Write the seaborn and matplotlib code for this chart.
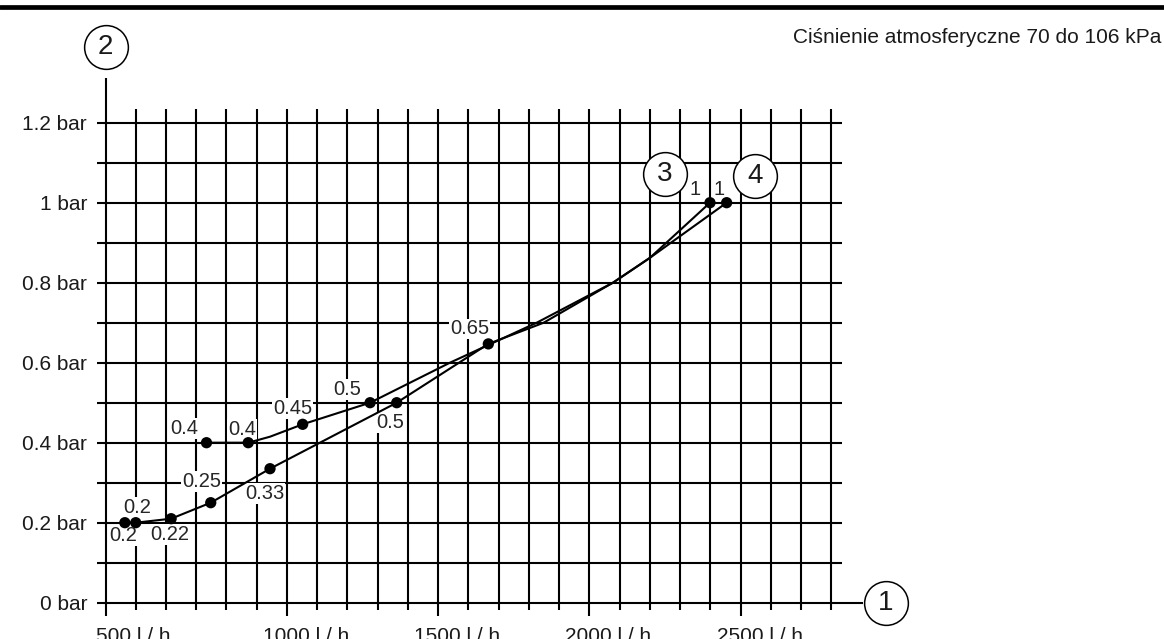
import numpy as np
import seaborn as sns
import matplotlib.pyplot as plt
import matplotlib.transforms as mtransforms

# punkty pomiarowe (przeplyw l/h, cisnienie bar) dla krzywych 3 i 4
flow_3 = [500, 734, 872, 1052, 1275, 2399]
press_3 = [0.2, 0.4, 0.4, 0.446, 0.5, 1.0]
text_3 = ['0.2', '0.4', '0.4', '0.45', '0.5', '1']

flow_4 = [464, 617, 748, 944, 1363, 1666, 2454]
press_4 = [0.2, 0.21, 0.25, 0.335, 0.5, 0.647, 1.0]
text_4 = ['0.2', '0.22', '0.25', '0.33', '0.5', '0.65', '1']

# przebieg linii
path_3_flow = [734, 872, 944, 1052, 1275, 1539, 1826, 2078, 2200, 2399]
path_3_press = [0.4, 0.4, 0.415, 0.446, 0.5, 0.6, 0.7, 0.8, 0.862, 1.0]
path_4_flow = [464, 500, 617, 748, 944, 1363, 1666, 1849, 2078, 2200, 2454]
path_4_press = [0.2, 0.2, 0.21, 0.25, 0.335, 0.5, 0.647, 0.7, 0.8, 0.862, 1.0]

xtick_vals = [400, 1000, 1500, 2000, 2500]
xtick_text = ['500 l / h', '1000 l / h', '1500 l / h', '2000 l / h', '2500 l / h']
ytick_vals = [0, 0.2, 0.4, 0.6, 0.8, 1.0, 1.2]
ytick_text = ['0 bar', '0.2 bar', '0.4 bar', '0.6 bar', '0.8 bar', '1 bar', '1.2 bar']

title = 'Ciśnienie atmosferyczne 70 do 106 kPa'

# przesuniecia etykiet punktow w pikselach (dx, dy w dol)
offs_3 = [(1, -15), (-22, -14), (-6, -13), (-10, -16), (-23, -13), (-15, -13)]
offs_4 = [(-2, 13), (-1, 16), (-9, -21), (-5, 25), (-7, 20), (-19, -15), (-8, -13)]
xtick_dx = [28, 19, 19, 19, 19]

sns.set_theme(style='white')
plt.rcParams['font.family'] = ['Liberation Sans', 'DejaVu Sans']

W, H = 1164, 639
fig = plt.figure(figsize=(W / 100, H / 100), dpi=100)
ax = fig.add_axes([105.5 / W, 36.3 / H, (2904 - 400) * 0.3024 / W, 1.311 * 400 / H])
ax.set_xlim(400, 2904)
ax.set_ylim(0, 1.311)
for s in ax.spines.values():
    s.set_visible(False)

lw = 1.5
# siatka
grid_x = np.arange(500, 2801, 100)
long_x = xtick_vals[1:]
short_x = [x for x in grid_x if x not in long_x]
ax.vlines(short_x, -0.0175, 1.2335, color='black', lw=lw, clip_on=False, zorder=1)
ax.vlines(long_x, -0.0325, 1.2335, color='black', lw=lw, clip_on=False, zorder=1)
ax.vlines(400, -0.0325, 1.311, color='black', lw=lw, clip_on=False, zorder=1)
ax.hlines(np.arange(1, 13) / 10, 372.6, 2834.5, color='black', lw=lw, clip_on=False, zorder=1)
ax.hlines(0, 372.6, 2904, color='black', lw=lw, clip_on=False, zorder=1)

# krzywe
sns.lineplot(x=path_3_flow, y=path_3_press, ax=ax, color='black', lw=1.5, sort=False, estimator=None, zorder=4)
sns.lineplot(x=path_4_flow, y=path_4_press, ax=ax, color='black', lw=1.5, sort=False, estimator=None, zorder=4)
sns.scatterplot(x=flow_3 + flow_4, y=press_3 + press_4, ax=ax, color='black', s=66, edgecolor='none', zorder=5)

for fl, pr, tx, off in zip(flow_3 + flow_4, press_3 + press_4, text_3 + text_4, offs_3 + offs_4):
    ax.annotate(tx, (fl, pr), xytext=(off[0] * 0.72, -off[1] * 0.72), textcoords='offset points',
                ha='center', va='center', fontsize=14.5, zorder=3,
                bbox=dict(fc='white', ec='none', pad=0.6))

# osie
ax.set_xticks([])
ax.set_yticks(ytick_vals, ytick_text)
ax.tick_params(axis='y', length=0, pad=13.3, labelsize=15, colors='#1a1a1a')
ax.set_xlabel('')
ax.set_ylabel('')

for xv, xt, dx in zip(xtick_vals, xtick_text, xtick_dx):
    tr = mtransforms.offset_copy(ax.transData, fig=fig, x=dx, y=-24, units='dots')
    ax.text(xv, 0, xt, transform=tr, ha='center', va='top', fontsize=15, color='#1a1a1a', clip_on=False)

# oznaczenia w kolkach
circles = [('2', 400, 1.39), ('1', 2981, 0.0), ('3', 2250, 1.071), ('4', 2547, 1.0675)]
for lab, cx, cy in circles:
    ax.plot(cx, cy, 'o', ms=31.5, mfc='white', mec='black', mew=1.1, clip_on=False, zorder=6)
    ax.text(cx, cy, lab, ha='center', va='center', fontsize=20, color='#1a1a1a', zorder=7, clip_on=False)

fig.text(1161.5 / W, 1 - 42.7 / H, title, ha='right', va='baseline', fontsize=15, color='#1a1a1a')
fig.add_artist(plt.Line2D([0, 1], [1 - 6.5 / H] * 2, transform=fig.transFigure, color='black', lw=3.4))

fig.savefig('out.png', dpi=100)
